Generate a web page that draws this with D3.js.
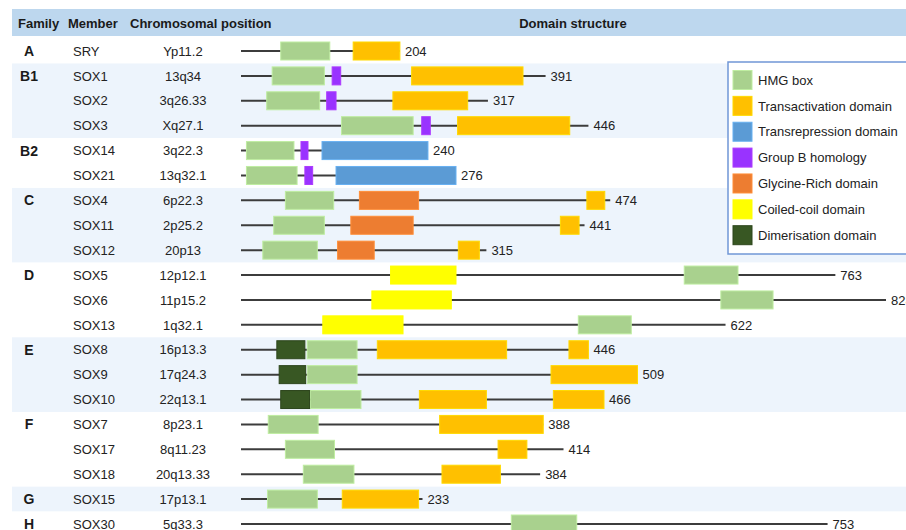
<!DOCTYPE html>
<html>
<head>
<meta charset="utf-8">
<script src="https://cdn.jsdelivr.net/npm/d3@7"></script>
<style>
  html, body { margin: 0; padding: 0; background: #ffffff; }
  svg { display: block; font-family: "Liberation Sans", Arial, Helvetica, sans-serif; }
</style>
</head>
<body>
<svg id="chart" width="906" height="530"></svg>
<script>
// SOX protein family: members, chromosomal loci and protein lengths (amino acids)
const members = ["SRY","SOX1","SOX2","SOX3","SOX14","SOX21","SOX4","SOX11","SOX12",
                 "SOX5","SOX6","SOX13","SOX8","SOX9","SOX10","SOX7","SOX17","SOX18","SOX15","SOX30"];
const families = ["A","B1","B1","B1","B2","B2","C","C","C","D","D","D","E","E","E","F","F","F","G","H"];
const positions = ["Yp11.2","13q34","3q26.33","Xq27.1","3q22.3","13q32.1","6p22.3","2p25.2","20p13",
                   "12p12.1","11p15.2","1q32.1","16p13.3","17q24.3","22q13.1","8p23.1","8q11.23","20q13.33","17p13.1","5q33.3"];
const lengths = [204,391,317,446,240,276,474,441,315,763,828,622,446,509,466,388,414,384,233,753];

// Domains as [member, start aa, end aa]
const hmgBox = [["SRY",51,114],["SOX1",40,107],["SOX2",33,101],["SOX3",129,221],["SOX14",7,68],["SOX21",7,72],
                ["SOX4",57,119],["SOX11",42,107],["SOX12",28,98],["SOX5",569,638],["SOX6",616,683],["SOX13",433,501],
                ["SOX8",85,149],["SOX9",85,149],["SOX10",89,154],["SOX7",35,99],["SOX17",57,120],["SOX18",80,145],
                ["SOX15",34,98],["SOX30",347,431]];
const transactivation = [["SRY",144,204],["SOX1",219,362],["SOX2",195,291],["SOX3",278,422],["SOX4",444,467],
                ["SOX11",410,434],["SOX12",279,306],["SOX8",175,341],["SOX8",421,446],["SOX9",398,509],
                ["SOX10",229,315],["SOX10",401,466],["SOX7",255,388],["SOX17",330,367],["SOX18",258,333],["SOX15",130,228]];
const transrepression = [["SOX14",104,240],["SOX21",122,276]];
const groupB = [["SOX1",117,128],["SOX2",110,122],["SOX3",232,243],["SOX14",77,86],["SOX21",82,92]];
const glycineRich = [["SOX4",152,228],["SOX11",141,221],["SOX12",124,171]];
const coiledCoil = [["SOX5",192,276],["SOX6",168,270],["SOX13",105,208]];
const dimerisation = [["SOX8",46,82],["SOX9",49,83],["SOX10",51,88]];

const legendLabels = ["HMG box","Transactivation domain","Transrepression domain","Group B homology",
                      "Glycine-Rich domain","Coiled-coil domain","Dimerisation domain"];
const domainColors = ["#a9d18e","#ffc000","#5b9bd5","#9933ff","#ed7d31","#ffff00","#385723"];
const domainSets = [hmgBox, transactivation, transrepression, groupB, glycineRich, coiledCoil, dimerisation];
const headers = ["Family","Member","Chromosomal position","Domain structure"];

const svg = d3.select("#chart");
const W = 906;

// Scales: rows by member, x by amino-acid position
const y = d3.scalePoint().domain(members).range([51, 524]);
const step = y.step();
const x = d3.scaleLinear().domain([0, d3.max(lengths)]).range([241, 886]);

// Family bands (alternating white / pale blue)
const famOrder = Array.from(new Set(families));
const famRows = famOrder.map(f => members.filter((m, i) => families[i] === f));
svg.append("g").selectAll("rect").data(famOrder).join("rect")
  .attr("x", 12)
  .attr("y", (f, i) => y(famRows[i][0]) - step / 2)
  .attr("width", W - 12)
  .attr("height", (f, i) => famRows[i].length * step)
  .attr("fill", (f, i) => i % 2 ? "#edf4fc" : "#ffffff");

// Header band
svg.append("rect").attr("x", 12).attr("y", 9).attr("width", W - 12).attr("height", 27).attr("fill", "#bdd7ee");
const headerX = [18, 68, 130, 573];
svg.append("g").selectAll("text").data(headers).join("text")
  .attr("x", (d, i) => headerX[i])
  .attr("y", 28)
  .attr("text-anchor", (d, i) => i === 3 ? "middle" : "start")
  .attr("font-size", 13).attr("font-weight", "bold").attr("fill", "#1a1a1a")
  .text(d => d);

// Family labels on the first row of each family
svg.append("g").selectAll("text").data(famOrder).join("text")
  .attr("x", 29)
  .attr("y", (f, i) => y(famRows[i][0]))
  .attr("dy", "0.36em")
  .attr("text-anchor", "middle")
  .attr("font-size", 14).attr("font-weight", "bold").attr("fill", "#1a1a1a")
  .text(d => d);

// Member names and chromosomal positions
svg.append("g").selectAll("text").data(members).join("text")
  .attr("x", 73).attr("y", d => y(d)).attr("dy", "0.36em")
  .attr("font-size", 13).attr("fill", "#222")
  .text(d => d);
svg.append("g").selectAll("text").data(positions).join("text")
  .attr("x", 183).attr("y", (d, i) => y(members[i])).attr("dy", "0.36em")
  .attr("text-anchor", "middle")
  .attr("font-size", 13).attr("fill", "#222")
  .text(d => d);

// Protein backbone lines
svg.append("g").selectAll("line").data(members).join("line")
  .attr("x1", x(0))
  .attr("x2", (d, i) => x(lengths[i]))
  .attr("y1", d => y(d)).attr("y2", d => y(d))
  .attr("stroke", "#3c3c3c").attr("stroke-width", 2);

// Domain boxes
const boxH = 18;
domainSets.forEach((set, k) => {
  const fill = domainColors[k];
  const stroke = k === 6 ? d3.color(fill).darker(0.6) : d3.color(fill).brighter(0.35);
  svg.append("g").selectAll("rect").data(set).join("rect")
    .attr("x", d => x(d[1]))
    .attr("y", d => y(d[0]) - boxH / 2)
    .attr("width", d => x(d[2]) - x(d[1]))
    .attr("height", boxH)
    .attr("fill", fill)
    .attr("stroke", stroke).attr("stroke-width", 1);
});

// Length labels
svg.append("g").selectAll("text").data(members).join("text")
  .attr("x", (d, i) => x(lengths[i]) + 5)
  .attr("y", d => y(d)).attr("dy", "0.36em")
  .attr("font-size", 13).attr("fill", "#222")
  .text((d, i) => lengths[i]);

// Legend
const lg = svg.append("g");
lg.append("rect").attr("x", 728).attr("y", 62).attr("width", 200).attr("height", 192)
  .attr("fill", "#ffffff").attr("stroke", "#7097d6").attr("stroke-width", 1.5);
const ly = d3.scalePoint().domain(legendLabels).range([80, 235.2]);
lg.selectAll("rect.sw").data(legendLabels).join("rect").attr("class", "sw")
  .attr("x", 733).attr("y", d => ly(d) - 9.5).attr("width", 19).attr("height", 19)
  .attr("fill", (d, i) => domainColors[i])
  .attr("stroke", (d, i) => i === 6 ? d3.color(domainColors[i]).darker(0.6) : d3.color(domainColors[i]).brighter(0.35))
  .attr("stroke-width", 1);
lg.selectAll("text").data(legendLabels).join("text")
  .attr("x", 758).attr("y", d => ly(d)).attr("dy", "0.36em")
  .attr("font-size", 13).attr("fill", "#222")
  .text(d => d);
</script>
</body>
</html>
